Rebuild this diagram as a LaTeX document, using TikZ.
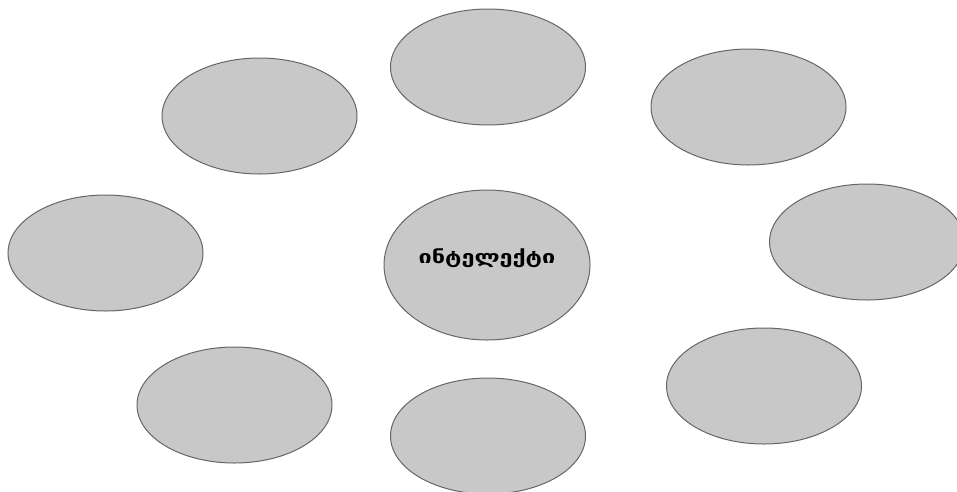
\documentclass[tikz,border=0pt]{standalone}
\usepackage{fontspec}
\usetikzlibrary{shapes.geometric}
\newfontfamily\geofont[FakeStretch=1.3]{DejaVu Sans}
\definecolor{bubblefill}{HTML}{C8C8C8}
\definecolor{bubbleline}{HTML}{666666}
\begin{document}
\begin{tikzpicture}[x=1pt,y=-1pt,
  bubble/.style={ellipse,draw=bubbleline,fill=bubblefill,line width=1pt,inner sep=0pt,
    minimum width=195pt,minimum height=116pt},
  centerbubble/.style={bubble,minimum width=206pt,minimum height=150pt},
  centerlabel/.style={inner sep=0pt,font=\geofont\bfseries\fontsize{18}{20}\selectfont}]
\useasboundingbox (0,0) rectangle (957,491);
\clip (0,0) rectangle (957,491);
\node[bubble] (top) at (488,67) {};
\node[bubble] (topleft) at (259.5,116) {};
\node[bubble] (topright) at (748.5,107) {};
\node[bubble] (left) at (105.5,253) {};
\node[centerbubble] (center) at (487,265) {};
\node[centerlabel] (centertext) at (487,258) {ინტელექტი};
\node[bubble] (right) at (867,242) {};
\node[bubble] (bottomleft) at (234.5,405) {};
\node[bubble] (bottom) at (488,436) {};
\node[bubble] (bottomright) at (764,386) {};
\end{tikzpicture}
\end{document}
